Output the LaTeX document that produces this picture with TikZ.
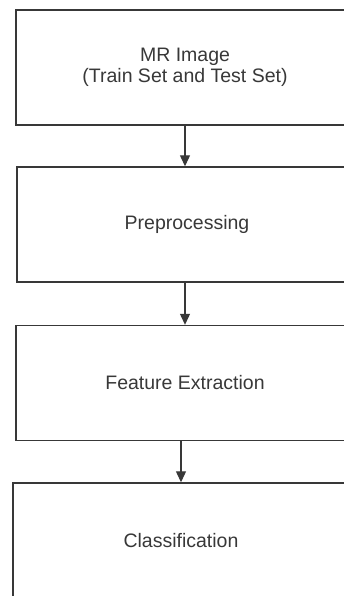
\documentclass[tikz,border=0pt]{standalone}
\usepackage{fontspec}
\setmainfont{Liberation Sans}
\usetikzlibrary{arrows.meta}
\colorlet{lnx}{black!78}
\colorlet{txx}{black!78}
\tikzset{
    stage/.style={lnx,draw,line width=1.4pt,rectangle,minimum width=338pt,minimum height=115pt,
        align=center,text=txx,font=\fontsize{19.5}{21}\selectfont,inner sep=0pt},
    flow/.style={lnx,line width=1.2pt,-{Triangle[length=11pt,width=10pt]}}
}
\begin{document}
\begin{tikzpicture}[x=1pt,y=-1pt]
            \useasboundingbox (0,0) rectangle (344,596);
            \clip (0,0) rectangle (344,596);
            \node [stage] (mri) at (185,67.5) {MR Image\\(Train Set and Test Set)};
            \node [stage,minimum width=340pt] (prep) at (187,224.5) {Preprocessing};
            \node [stage] (feat) at (185,383) {Feature Extraction};
            \node [stage,minimum width=336pt] (cls) at (181,540.5) {Classification};
            \draw [flow] (mri.south) -- (mri.south |- prep.north);
            \draw [flow] (mri.south |- prep.south) -- (mri.south |- feat.north);
            \draw [flow] (feat.south -| cls.north) -- (cls.north);
        \end{tikzpicture}
\end{document}
